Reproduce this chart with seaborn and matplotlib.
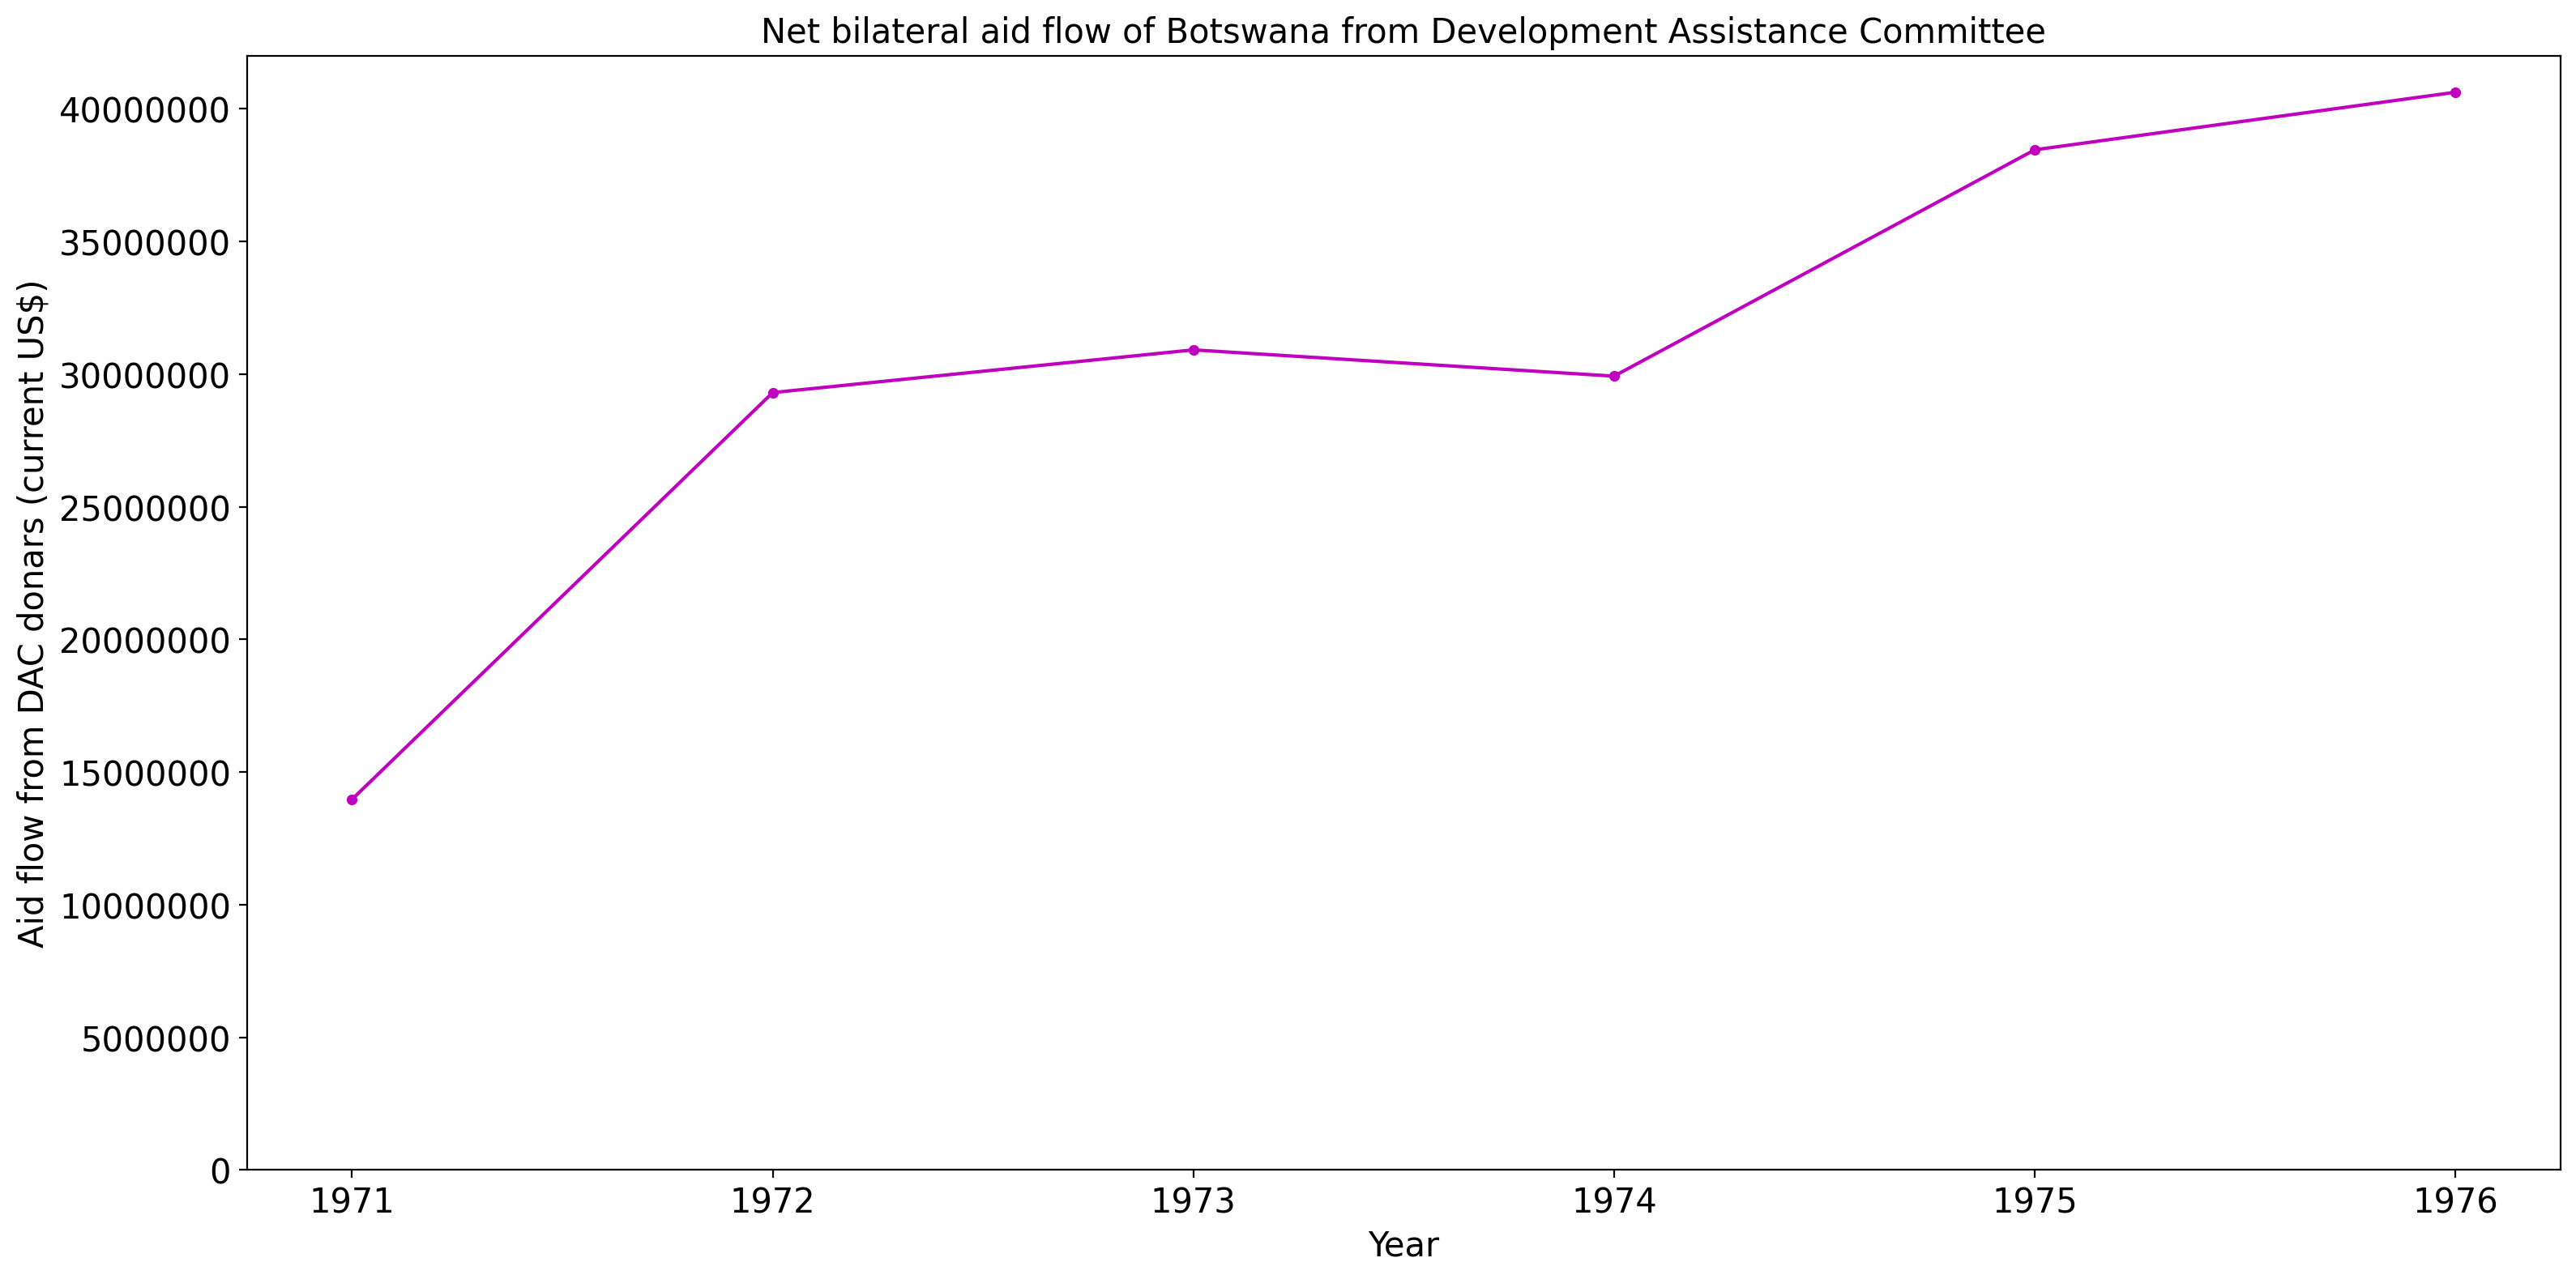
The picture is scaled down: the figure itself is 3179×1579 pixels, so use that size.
import matplotlib
matplotlib.use('Agg')
import matplotlib.pyplot as plt
import seaborn as sns
import pandas as pd

years = [1971, 1972, 1973, 1974, 1975, 1976]
aid = [13970000, 29300000, 30910000, 29920000, 38450000, 40620000]

df = pd.DataFrame({'Year': years, 'Aid': aid})

fig, ax = plt.subplots(figsize=(16, 8), dpi=200)
sns.lineplot(x='Year', y='Aid', data=df, color='m', marker='o', markersize=4,
             markeredgecolor='m', ax=ax)
ax.set_title('Net bilateral aid flow of Botswana from Development Assistance Committee', fontsize=15)
ax.set_xlabel('Year', fontsize=15)
ax.set_ylabel('Aid flow from DAC donars (current US$)', fontsize=15)
ax.tick_params(labelsize=15)
ax.ticklabel_format(axis='y', style='plain', useOffset=False)
ax.set_ylim(0, 42000000)
ax.set_xticks(years)
plt.tight_layout()
plt.savefig('out.png', dpi=200, bbox_inches='tight')
